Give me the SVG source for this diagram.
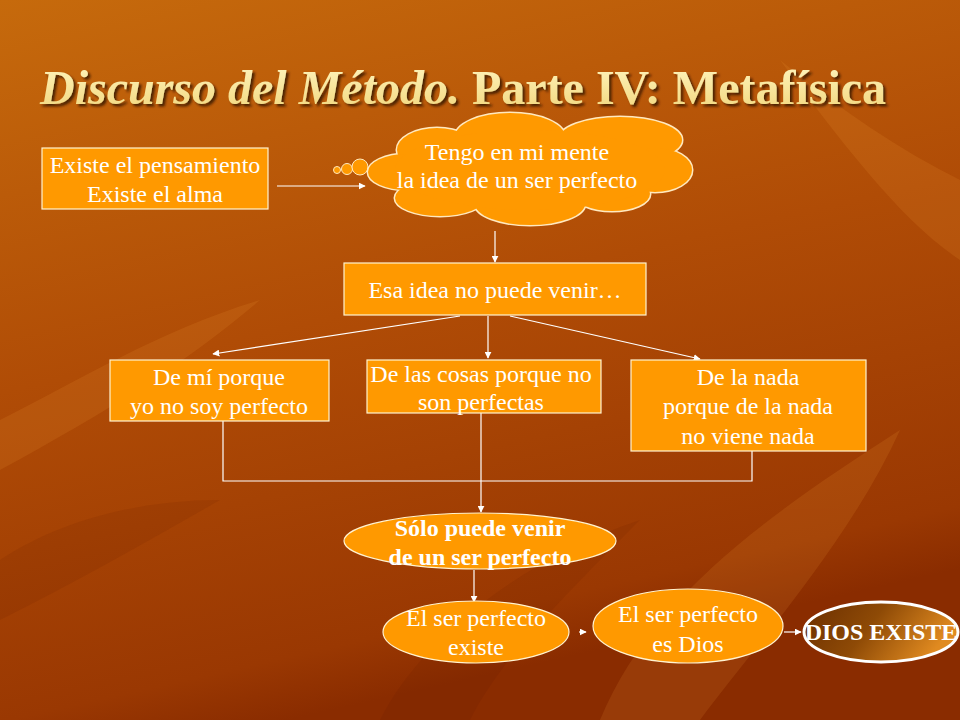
<svg xmlns="http://www.w3.org/2000/svg" width="960" height="720" viewBox="0 0 960 720">
<defs>
<linearGradient id="bg" x1="0" y1="0" x2="0.3" y2="1">
<stop offset="0" stop-color="#C66A0C"/>
<stop offset="0.5" stop-color="#B04C06"/>
<stop offset="0.92" stop-color="#9A3802"/>
<stop offset="1" stop-color="#8A2C00"/>
</linearGradient>
<linearGradient id="title" x1="0" y1="0" x2="0" y2="1">
<stop offset="0" stop-color="#FFF6C0"/>
<stop offset="1" stop-color="#F2D57A"/>
</linearGradient>
<linearGradient id="dios" x1="0" y1="0" x2="1" y2="0.3">
<stop offset="0" stop-color="#6A2E00"/>
<stop offset="0.5" stop-color="#8E4A06"/>
<stop offset="1" stop-color="#E08A20"/>
</linearGradient>
<filter id="shadow" x="-5%" y="-20%" width="110%" height="150%">
<feDropShadow dx="2.5" dy="2.5" stdDeviation="0.8" flood-color="#3A1500" flood-opacity="0.85"/>
</filter>
<marker id="arr" viewBox="0 0 10 10" refX="9" refY="5" markerWidth="7" markerHeight="7" orient="auto" markerUnits="userSpaceOnUse">
<path d="M0,0 L10,5 L0,10 z" fill="#FFFFFF"/>
</marker>
<style>
.box{fill:#FF9900;stroke:#FFF3D0;stroke-width:1.2}
.t{font-family:"Liberation Serif","Times New Roman",serif;font-size:24px;fill:#FFFFFF;text-anchor:middle}
.b{font-weight:bold}
.ln{stroke:#FFFFFF;stroke-width:1.2;fill:none}
.cl{fill:#FF9900;stroke:#FFE9C0;stroke-width:3}
.cf{fill:#FF9900}
</style>
</defs>
<rect x="0" y="0" width="960" height="720" fill="url(#bg)"/>
<g opacity="0.12" fill="#FFB040">
<path d="M600,720 C650,600 760,520 900,430 C850,540 760,640 700,720 z"/>
<path d="M0,420 C80,380 160,330 260,300 C190,360 110,410 0,470 z"/>
<path d="M780,60 C840,140 900,220 960,260 L960,180 C900,150 840,110 780,60 z"/>
</g>
<g opacity="0.10" fill="#5A1800">
<path d="M380,720 C420,640 520,560 640,520 C560,600 500,660 470,720 z"/>
<path d="M0,560 C60,520 140,500 220,500 C150,540 80,580 0,620 z"/>
</g>
<g id="title-text">
<text x="40" y="104" font-family="'Liberation Serif','Times New Roman',serif" font-size="48" font-weight="bold" fill="url(#title)" filter="url(#shadow)"><tspan font-style="italic">Discurso del Método.</tspan> Parte IV: Metafísica</text>
</g>
<g id="connectors">
<line class="ln" x1="277" y1="186" x2="365" y2="186" marker-end="url(#arr)"/>
<line class="ln" x1="495" y1="231" x2="495" y2="262" marker-end="url(#arr)"/>
<line class="ln" x1="460" y1="316" x2="213" y2="354" marker-end="url(#arr)"/>
<line class="ln" x1="488" y1="316" x2="488" y2="358" marker-end="url(#arr)"/>
<line class="ln" x1="510" y1="316" x2="700" y2="359" marker-end="url(#arr)"/>
<polyline class="ln" points="223,421 223,481 752,481 752,451"/>
<line class="ln" x1="481" y1="413" x2="481" y2="512" marker-end="url(#arr)"/>
<line class="ln" x1="474" y1="570" x2="474" y2="602" marker-end="url(#arr)"/>
<line class="ln" x1="579" y1="632" x2="586" y2="632" marker-end="url(#arr)"/>
<line class="ln" x1="784" y1="632" x2="801" y2="632" marker-end="url(#arr)"/>
</g>
<g id="n-pensamiento">
<rect class="box" x="42" y="148" width="226" height="61"/>
<text class="t" x="155" y="173">Existe el pensamiento</text>
<text class="t" x="155" y="202">Existe el alma</text>
</g>
<g id="n-cloud">
<circle cx="337" cy="170" r="3.5" fill="#FF9900" stroke="#FFE9C0" stroke-width="1"/>
<circle cx="347" cy="169" r="5.5" fill="#FF9900" stroke="#FFE9C0" stroke-width="1"/>
<circle cx="360" cy="167" r="8" fill="#FF9900" stroke="#FFE9C0" stroke-width="1"/>
<g class="cl">
<ellipse cx="437" cy="150" rx="40" ry="22"/>
<ellipse cx="510" cy="137" rx="55" ry="24"/>
<ellipse cx="620" cy="140" rx="62" ry="23"/>
<ellipse cx="655" cy="170" rx="37" ry="22"/>
<ellipse cx="612" cy="194" rx="38" ry="17"/>
<ellipse cx="530" cy="204" rx="55" ry="21"/>
<ellipse cx="440" cy="198" rx="45" ry="18"/>
<ellipse cx="407" cy="172" rx="39" ry="18"/>
</g>
<g class="cf">
<ellipse cx="437" cy="150" rx="40" ry="22"/>
<ellipse cx="510" cy="137" rx="55" ry="24"/>
<ellipse cx="620" cy="140" rx="62" ry="23"/>
<ellipse cx="655" cy="170" rx="37" ry="22"/>
<ellipse cx="612" cy="194" rx="38" ry="17"/>
<ellipse cx="530" cy="204" rx="55" ry="21"/>
<ellipse cx="440" cy="198" rx="45" ry="18"/>
<ellipse cx="407" cy="172" rx="39" ry="18"/>
<ellipse cx="530" cy="170" rx="135" ry="40"/>
</g>
<text class="t" x="517" y="160">Tengo en mi mente</text>
<text class="t" x="517" y="188">la idea de un ser perfecto</text>
</g>
<g id="n-esa">
<rect class="box" x="344" y="263" width="302" height="52"/>
<text class="t" x="495" y="298">Esa idea no puede venir…</text>
</g>
<g id="n-demi">
<rect class="box" x="110" y="360" width="219" height="61"/>
<text class="t" x="219" y="385">De mí porque</text>
<text class="t" x="219" y="414">yo no soy perfecto</text>
</g>
<g id="n-cosas">
<rect class="box" x="367" y="360" width="234" height="53"/>
<text class="t" x="481" y="382">De las cosas porque no</text>
<text class="t" x="481" y="410">son perfectas</text>
</g>
<g id="n-nada">
<rect class="box" x="631" y="360" width="235" height="91"/>
<text class="t" x="748" y="385">De la nada</text>
<text class="t" x="748" y="414">porque de la nada</text>
<text class="t" x="748" y="444">no viene nada</text>
</g>
<g id="n-solo">
<ellipse class="box" cx="480" cy="541" rx="136" ry="28"/>
<text class="t b" x="480" y="536">Sólo puede venir</text>
<text class="t b" x="480" y="565">de un ser perfecto</text>
</g>
<g id="n-existe">
<ellipse class="box" cx="476" cy="632" rx="93" ry="31"/>
<text class="t" x="476" y="626">El ser perfecto</text>
<text class="t" x="476" y="655">existe</text>
</g>
<g id="n-esdios">
<ellipse class="box" cx="688" cy="626" rx="95" ry="37"/>
<text class="t" x="688" y="622">El ser perfecto</text>
<text class="t" x="688" y="652">es Dios</text>
</g>
<g id="n-diosexiste">
<ellipse cx="881" cy="632" rx="77" ry="30" fill="url(#dios)" stroke="#FFFFFF" stroke-width="3"/>
<text class="t b" x="881" y="640">DIOS EXISTE</text>
</g>
</svg>
